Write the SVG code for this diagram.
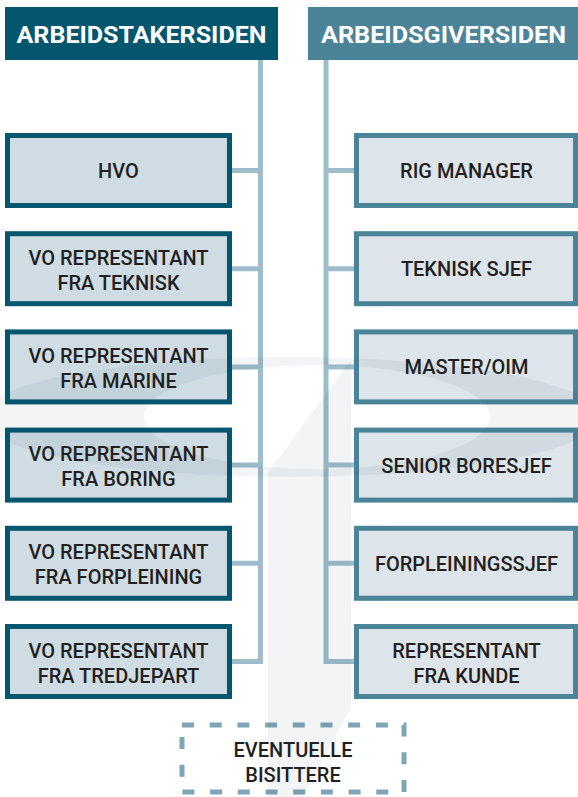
<svg xmlns="http://www.w3.org/2000/svg" width="578" height="797" viewBox="0 0 578 797">
<style>
.hl{fill:#04566f}
.hr{fill:#4b8499}
.ht{font-family:Roboto,"Liberation Sans",sans-serif;font-weight:700;font-size:23px;fill:#ffffff;text-anchor:middle}
.bl{fill:#cfdce4;stroke:#04566f;stroke-width:5}
.br{fill:#dde4ea;stroke:#4b8499;stroke-width:5}
.t{font-family:Roboto,"Liberation Sans",sans-serif;font-weight:500;font-size:20px;fill:#231f20;text-anchor:middle}
.c{fill:none;stroke:#9fbccb;stroke-width:5}
.d{fill:none;stroke:#7ea6b6;stroke-width:5;stroke-dasharray:12 15.7}
.wm{fill:#0f3f4f;opacity:0.055}
</style>
<rect width="578" height="797" fill="#ffffff"/>
<g id="connectors">
<path class="c" d="M260.5 60 V661.5 H232 M232 170.5 H260.5 M232 268.7 H260.5 M232 366.9 H260.5 M232 465.1 H260.5 M232 563.3 H260.5"/>
<path class="c" d="M326 60 V661.5 H354 M326 170.5 H354 M326 268.7 H354 M326 366.9 H354 M326 465.1 H354 M326 563.3 H354"/>
</g>
<g id="header-left"><rect class="hl" x="5" y="7" width="273" height="53"/><text class="ht" x="141.5" y="43" textLength="250" lengthAdjust="spacingAndGlyphs">ARBEIDSTAKERSIDEN</text></g>
<g id="header-right"><rect class="hr" x="308" y="7" width="270" height="53"/><text class="ht" x="443.5" y="43" textLength="245" lengthAdjust="spacingAndGlyphs">ARBEIDSGIVERSIDEN</text></g>
<g id="hvo"><rect class="bl" x="7.5" y="135.5" width="222" height="70"/><text class="t" x="118.5" y="178">HVO</text></g>
<g id="vo-teknisk"><rect class="bl" x="7.5" y="233.7" width="222" height="70"/><text class="t" x="118.5" y="264.7">VO REPRESENTANT</text><text class="t" x="118.5" y="289.7">FRA TEKNISK</text></g>
<g id="vo-marine"><rect class="bl" x="7.5" y="331.9" width="222" height="70"/><text class="t" x="118.5" y="362.9">VO REPRESENTANT</text><text class="t" x="118.5" y="387.9">FRA MARINE</text></g>
<g id="vo-boring"><rect class="bl" x="7.5" y="430.1" width="222" height="70"/><text class="t" x="118.5" y="461.1">VO REPRESENTANT</text><text class="t" x="118.5" y="486.1">FRA BORING</text></g>
<g id="vo-forpleining"><rect class="bl" x="7.5" y="528.3" width="222" height="70"/><text class="t" x="118.5" y="559.3">VO REPRESENTANT</text><text class="t" x="118.5" y="584.3">FRA FORPLEINING</text></g>
<g id="vo-tredjepart"><rect class="bl" x="7.5" y="626.5" width="222" height="70"/><text class="t" x="118.5" y="657.5">VO REPRESENTANT</text><text class="t" x="118.5" y="682.5">FRA TREDJEPART</text></g>
<g id="rig-manager"><rect class="br" x="356.5" y="135.5" width="219" height="70"/><text class="t" x="466.5" y="178">RIG MANAGER</text></g>
<g id="teknisk-sjef"><rect class="br" x="356.5" y="233.7" width="219" height="70"/><text class="t" x="466.5" y="276.2">TEKNISK SJEF</text></g>
<g id="master-oim"><rect class="br" x="356.5" y="331.9" width="219" height="70"/><text class="t" x="466.5" y="374.4">MASTER/OIM</text></g>
<g id="senior-boresjef"><rect class="br" x="356.5" y="430.1" width="219" height="70"/><text class="t" x="466.5" y="472.6">SENIOR BORESJEF</text></g>
<g id="forpleiningssjef"><rect class="br" x="356.5" y="528.3" width="219" height="70"/><text class="t" x="466.5" y="570.8">FORPLEININGSSJEF</text></g>
<g id="representant-kunde"><rect class="br" x="356.5" y="626.5" width="219" height="70"/><text class="t" x="466.5" y="657.5">REPRESENTANT</text><text class="t" x="466.5" y="682.5">FRA KUNDE</text></g>
<g id="eventuelle-bisittere"><rect class="d" x="182" y="725" width="222" height="67"/><text class="t" x="293" y="757">EVENTUELLE</text><text class="t" x="293" y="782">BISITTERE</text></g>
<g id="watermark">
<path class="wm" fill-rule="evenodd" d="M-20 417 A310 60 0 1 0 600 417 A310 60 0 1 0 -20 417 Z M144 417 A173 52 0 1 0 490 417 A173 52 0 1 0 144 417 Z"/>
<path class="wm" d="M351 360 L268 473 V797 H303 L351 707 Z"/>
</g>
</svg>
